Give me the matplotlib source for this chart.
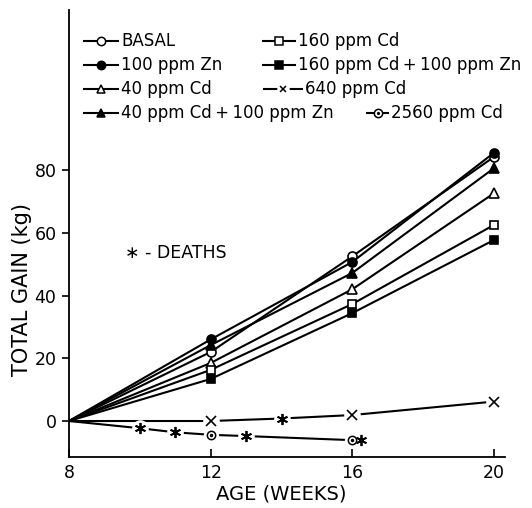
import matplotlib
matplotlib.use("Agg")
import matplotlib.pyplot as plt
from matplotlib.lines import Line2D

plt.rcParams["font.family"] = ["DejaVu Sans"]

# Weekly sample ages and cumulative weight gain (kg) for each diet
weeks = [8, 12, 16, 20]
basal = [0, 22.0, 52.5, 84.2]
zn100 = [0, 26.0, 50.7, 85.5]
cd40 = [0, 18.5, 42.0, 72.6]
cd40_zn100 = [0, 24.2, 47.2, 80.6]
cd160 = [0, 16.3, 37.3, 62.5]
cd160_zn100 = [0, 13.4, 34.4, 57.7]

# 640 ppm Cd: measured points and the week of a death along the line
cd640_weeks = [8, 12, 16, 20]
cd640_gain = [0, 0.0, 1.9, 6.2]
cd640_death_weeks = [14]
cd640_death_gain = [0.8]

# 2560 ppm Cd: measured points and deaths along the line
cd2560_weeks = [8, 12, 16]
cd2560_gain = [0, -4.4, -6.1]
cd2560_death_weeks = [10, 11, 13, 16.25]
cd2560_death_gain = [-2.3, -3.6, -4.8, -6.1]

x_ticks = [8, 12, 16, 20]
y_ticks = [0, 20, 40, 60, 80]

W, H = 532, 508
fig = plt.figure(figsize=(W / 100, H / 100), dpi=100)
ax = fig.add_axes([69 / W, 1 - 457 / H, (505 - 69) / W, (457 - 10) / H])
ax.set_xlim(8, 20.31)
ax.set_ylim(-11.47, 131.0)

LW = 1.5
FS = 12.5
KFS = 12
death_marker = (6, 2, 0)

main_series = [
    (basal, "o", "white"),
    (zn100, "o", "black"),
    (cd40, "^", "white"),
    (cd40_zn100, "^", "black"),
    (cd160, "s", "white"),
    (cd160_zn100, "s", "black"),
]
for vals, mk, fc in main_series:
    ax.plot(weeks, vals, color="black", lw=LW, zorder=2)
    ax.plot(weeks[1:], vals[1:], ls="none", marker=mk, ms=6.5 if mk != "s" else 5.5,
            mfc=fc, mec="black", mew=1.2, zorder=4)


def merged(w1, g1, w2, g2):
    pts = sorted(zip(w1 + w2, g1 + g2))
    return [p[0] for p in pts], [p[1] for p in pts]


# 640 ppm Cd line, broken around its markers
mw, mg = merged(cd640_weeks, cd640_gain, cd640_death_weeks, cd640_death_gain)
ax.plot(mw, mg, color="black", lw=LW, zorder=2)
ax.plot(cd640_weeks[1:] + cd640_death_weeks, cd640_gain[1:] + cd640_death_gain,
        ls="none", marker="o", ms=12, mfc="white", mec="none", zorder=3)
ax.plot(cd640_weeks[1:], cd640_gain[1:], ls="none", marker="x", ms=6.5,
        mec="black", mew=1.2, zorder=4)
ax.plot(cd640_death_weeks, cd640_death_gain, ls="none", marker=death_marker, ms=8,
        mec="black", mew=1.3, zorder=4)

# 2560 ppm Cd line (the final death sits just past the last weighing)
dw, dg = merged(cd2560_weeks, cd2560_gain, cd2560_death_weeks[:-1], cd2560_death_gain[:-1])
ax.plot(dw, dg, color="black", lw=LW, zorder=2)
ax.plot(cd2560_death_weeks[:-1], cd2560_death_gain[:-1], ls="none", marker="o",
        ms=12, mfc="white", mec="none", zorder=3)
ax.plot(cd2560_weeks[1:], cd2560_gain[1:], ls="none", marker="o", ms=11,
        mfc="white", mec="none", zorder=3)
ax.plot(cd2560_weeks[1:], cd2560_gain[1:], ls="none", marker="o", ms=6,
        mfc="white", mec="black", mew=1.1, zorder=4)
ax.plot(cd2560_weeks[1:], cd2560_gain[1:], ls="none", marker="o", ms=1.5,
        mfc="black", mec="black", zorder=5)
ax.plot(cd2560_death_weeks, cd2560_death_gain, ls="none", marker=death_marker, ms=8,
        mec="black", mew=1.3, zorder=4)

# Axes styling
for side in ("top", "right"):
    ax.spines[side].set_visible(False)
for side in ("left", "bottom"):
    ax.spines[side].set_linewidth(1.3)
ax.set_yticks(y_ticks)
ax.set_xticks(x_ticks)
ax.set_yticklabels([str(v) for v in y_ticks], fontsize=FS)
ax.set_xticklabels([str(v) for v in x_ticks], fontsize=FS)
ax.tick_params(axis="y", direction="out", length=5, width=1.2, pad=4)
ax.tick_params(axis="x", direction="in", length=6, width=1.2, pad=5)


def fx(px):
    return px / W


def fy(py):
    return 1 - py / H


fig.text(fx(22), fy(289), "TOTAL GAIN (kg)", fontsize=15, rotation=90,
         ha="center", va="center")
fig.text(fx(281), fy(494), "AGE (WEEKS)", fontsize=14, ha="center", va="center")

ax.text(9.58, 53.5, "\u2217 - DEATHS", fontsize=FS, va="center", ha="left")

# Key, laid out in two columns
key = [
    ("BASAL", "o", "white", 84, 121, 41),
    ("100 ppm Zn", "o", "black", 84, 121, 65),
    ("40 ppm Cd", "^", "white", 84, 121, 89),
    ("40 ppm Cd\u2009+\u2009100 ppm Zn", "^", "black", 84, 121, 113),
    ("160 ppm Cd", "s", "white", 263, 298, 41),
    ("160 ppm Cd\u2009+\u2009100 ppm Zn", "s", "black", 263, 298, 65),
    ("640 ppm Cd", "x", "black", 264, 305, 89),
    ("2560 ppm Cd", "o", "white", 367, 391, 113),
]
for label, mk, fc, x0, tx, y in key:
    x1 = tx - 3
    xm = (x0 + x1) / 2
    fig.add_artist(Line2D([fx(x0), fx(x1)], [fy(y), fy(y)], color="black", lw=LW,
                          transform=fig.transFigure))
    if mk == "x":
        fig.add_artist(Line2D([fx(xm)], [fy(y)], ls="none", marker="o", ms=9,
                              mfc="white", mec="none", transform=fig.transFigure))
        fig.add_artist(Line2D([fx(xm)], [fy(y)], ls="none", marker="x", ms=5,
                              mec="black", mew=1.1, transform=fig.transFigure))
    else:
        fig.add_artist(Line2D([fx(xm)], [fy(y)], ls="none", marker=mk,
                              ms=6 if mk != "s" else 5.5, mfc=fc, mec="black",
                              mew=1.1, transform=fig.transFigure))
        if label.startswith("2560"):
            fig.add_artist(Line2D([fx(xm)], [fy(y)], ls="none", marker="o", ms=1.3,
                                  mfc="black", mec="black", transform=fig.transFigure))
    fig.text(fx(tx), fy(y), label, fontsize=KFS, va="center", ha="left")

fig.savefig("out.png", dpi=100)
